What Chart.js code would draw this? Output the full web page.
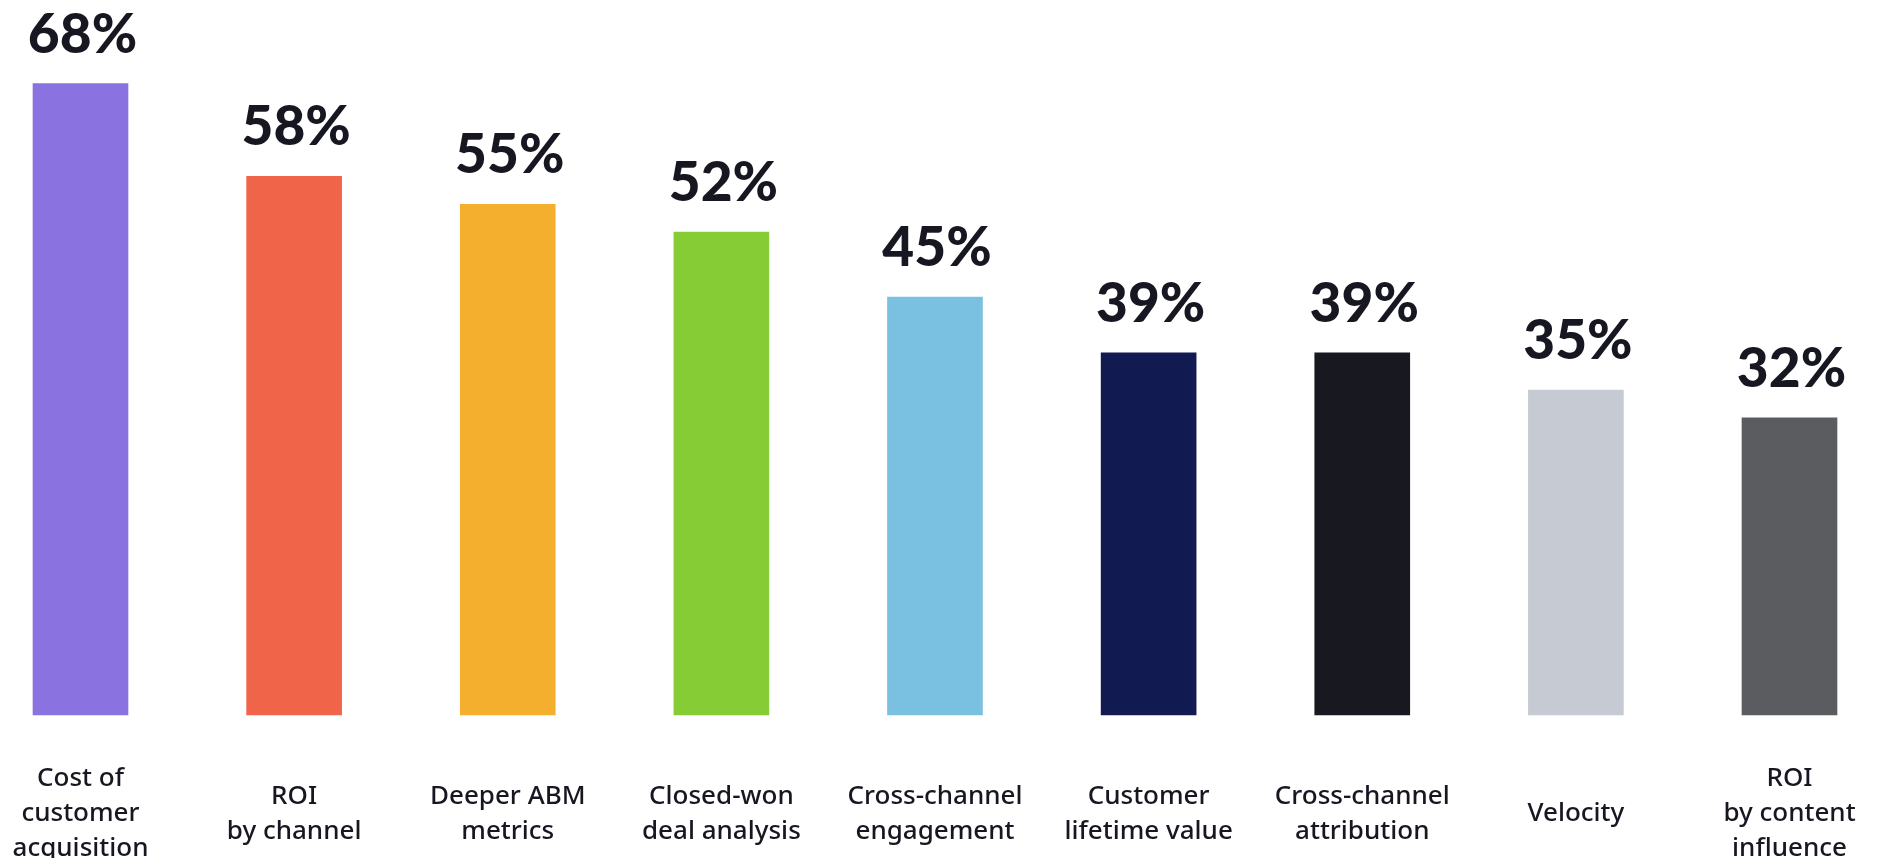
<!DOCTYPE html>
<html>
<head>
<meta charset="utf-8">
<script src="https://cdn.jsdelivr.net/npm/chart.js@4/dist/chart.umd.min.js"></script>
<style>
  html, body { margin: 0; padding: 0; background: #ffffff; }
  #wrap { width: 1883px; height: 858px; position: relative; }
</style>
</head>
<body>
<div id="wrap"><canvas id="bar_canvas"></canvas></div>
<script>
const CATEGORIES = [
  ['Cost of', 'customer', 'acquisition'],
  ['ROI', 'by channel'],
  ['Deeper ABM', 'metrics'],
  ['Closed-won', 'deal analysis'],
  ['Cross-channel', 'engagement'],
  ['Customer', 'lifetime value'],
  ['Cross-channel', 'attribution'],
  ['Velocity'],
  ['ROI', 'by content', 'influence'],
]

const VALUES = [68, 58, 55, 52, 45, 39, 39, 35, 32]

const BAR_COLORS = [
  '#8A72E0',
  '#F0644A',
  '#F5AF2F',
  '#86CC35',
  '#7AC0E0',
  '#121A52',
  '#181820',
  '#C6CBD3',
  '#5B5C5F',
]

const TEXT_COLOR = '#171722'

// percent labels above each bar
const valueLabels = {
  id: 'valueLabels',
  afterDatasetsDraw(chart) {
    const ctx = chart.ctx
    const meta = chart.getDatasetMeta(0)
    ctx.save()
    ctx.font = '900 55px Lato, "Liberation Sans", sans-serif'
    ctx.fillStyle = TEXT_COLOR
    ctx.textAlign = 'center'
    ctx.textBaseline = 'alphabetic'
    meta.data.forEach((bar, i) => {
      ctx.fillText(VALUES[i] + '%', bar.x + 2, bar.y - 31)
    })
    ctx.restore()
  },
}

const config = {
  type: 'bar',
  data: {
    labels: CATEGORIES,
    datasets: [
      {
        data: VALUES,
        backgroundColor: BAR_COLORS,
        borderWidth: 0,
        barThickness: 95,
        clip: false,
      },
    ],
  },
  options: {
    responsive: true,
    maintainAspectRatio: false,
    animation: false,
    devicePixelRatio: 1,
    layout: {
      padding: { left: 80.5, right: 93.5, top: 0, bottom: 0 },
    },
    plugins: {
      legend: { display: false },
      tooltip: { enabled: false },
    },
    scales: {
      x: {
        offset: false,
        grid: { display: false },
        border: { display: false },
        afterFit: (scale) => {
          scale.height = 143
          scale.paddingLeft = 0
          scale.paddingRight = 0
        },
        ticks: {
          padding: 56,
          crossAlign: 'center',
          maxRotation: 0,
          autoSkip: false,
          color: TEXT_COLOR,
          font: { family: '"Noto Sans", sans-serif', size: 26, weight: 500, lineHeight: 35 / 26 },
        },
      },
      y: {
        display: false,
        min: 0,
        max: 77,
      },
    },
  },
  plugins: [valueLabels],
}

const bar_chart = new Chart(document.getElementById('bar_canvas'), config)
</script>
</body>
</html>
